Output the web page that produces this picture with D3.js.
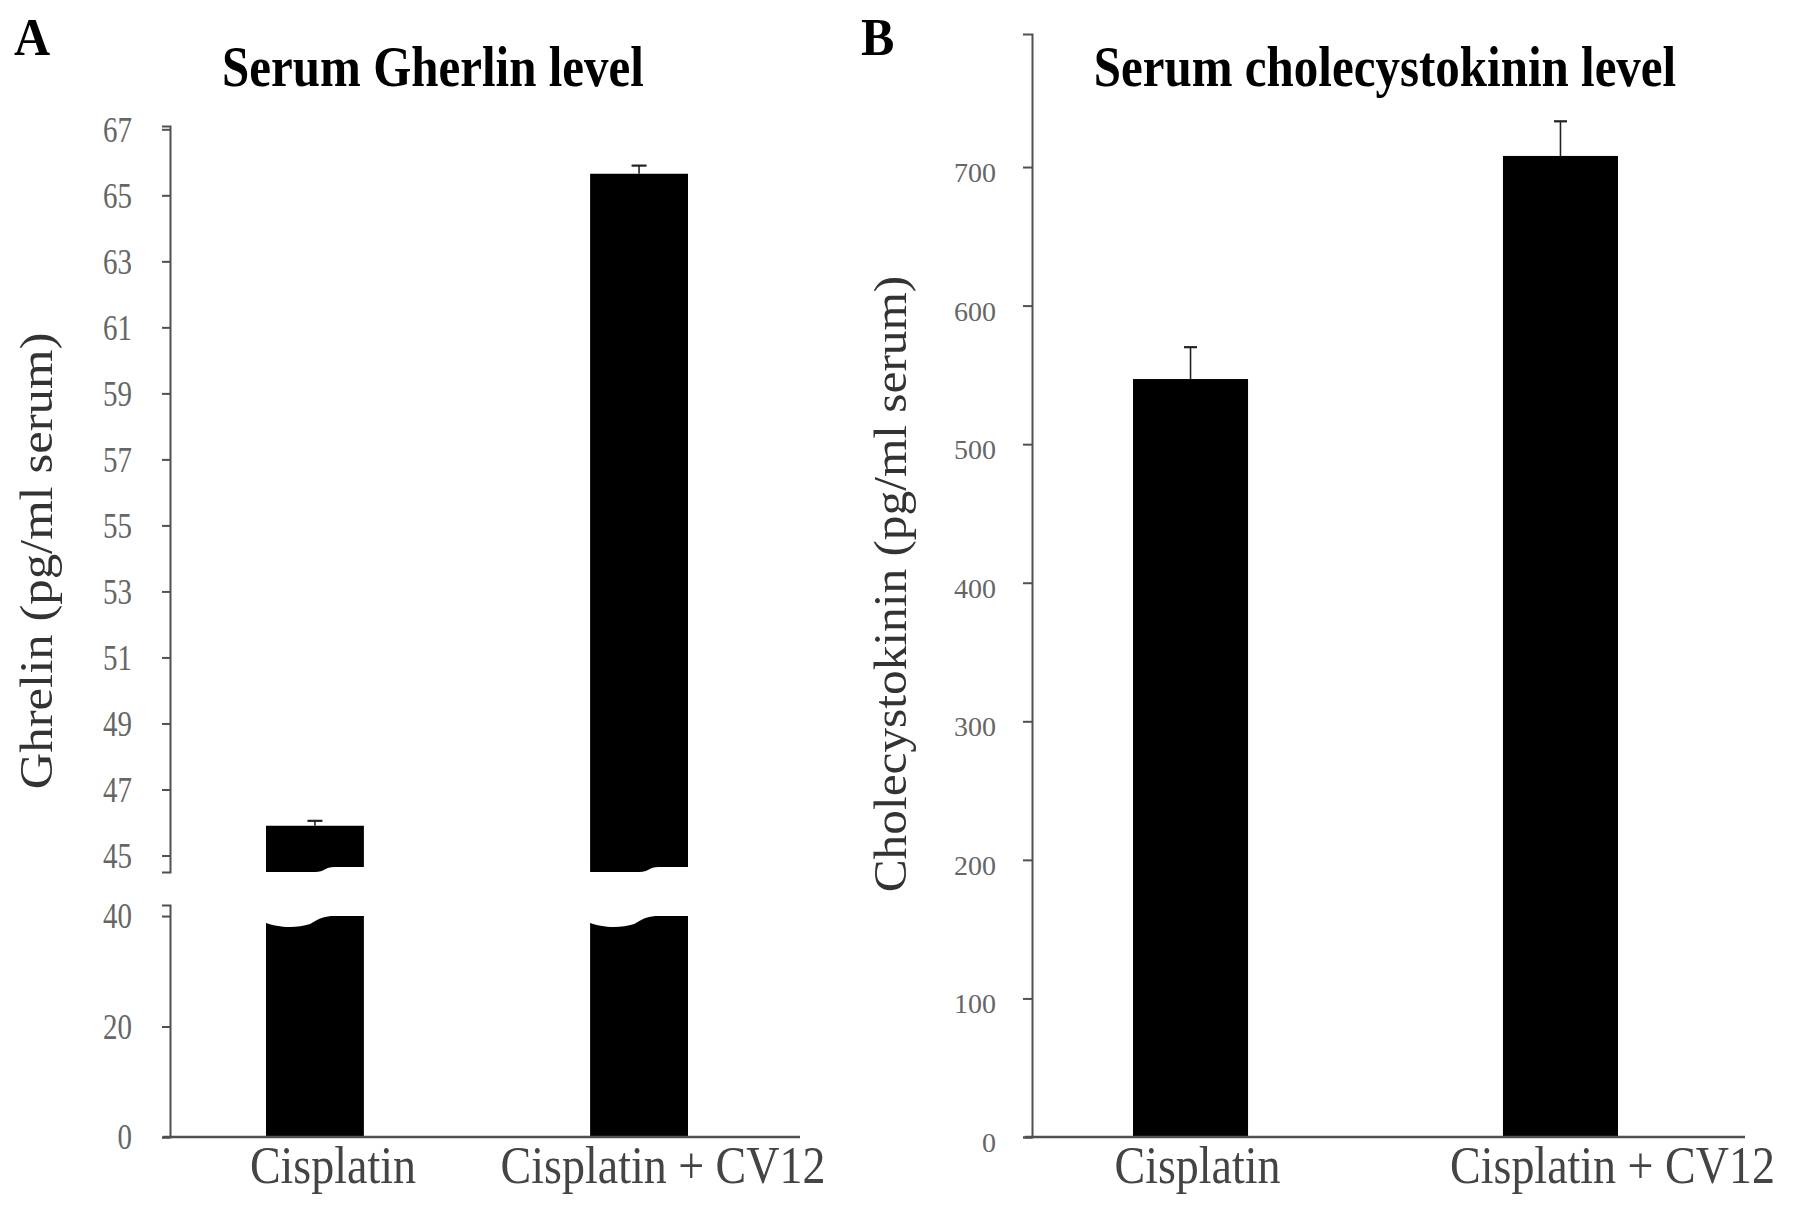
<!DOCTYPE html>
<html><head><meta charset="utf-8">
<script src="https://cdn.jsdelivr.net/npm/d3@7"></script>
<style>body{margin:0;background:#fff} svg{display:block}</style>
</head><body>
<svg id="c" width="1795" height="1207"></svg>
<script>
// ---- data ----
const categories = ["Cisplatin", "Cisplatin + CV12"];
const ghrelinMeans = [45.9, 65.65];
const ghrelinErr = [0.15, 0.25];
const cckMeans = [547, 708];
const cckErr = [23, 25];
const ghrelinUpperTicks = [45, 47, 49, 51, 53, 55, 57, 59, 61, 63, 65, 67];
const ghrelinLowerTicks = [0, 20, 40];
const ghrelinUpperDomain = [44.5, 67.1];
const ghrelinLowerDomain = [0, 42];
const ghrelinBreakValue = 40;
const cckTicks = [0, 100, 200, 300, 400, 500, 600, 700];
const cckDomain = [0, 796];
const titles = ["Serum Gherlin level", "Serum cholecystokinin level"];
const yLabels = ["Ghrelin (pg/ml serum)", "Cholecystokinin (pg/ml serum)"];
const panelLetters = ["A", "B"];

// ---- drawing ----
const svg = d3.select("#c");
const SERIF = "'Liberation Serif','DejaVu Serif',serif";
const AX = "#505050", TXT = "#666";
const STRETCH = 1.15;

function stretchedText(g, x, y, str, size, opts = {}) {
  return g.append("text")
    .attr("transform", `translate(${x},${y}) scale(1,${opts.stretch || STRETCH})`)
    .attr("font-family", SERIF).attr("font-size", size)
    .attr("font-weight", opts.bold ? "bold" : "normal")
    .attr("fill", opts.fill || "#000")
    .attr("text-anchor", opts.anchor || "middle")
    .text(str);
}
function rotatedLabel(x, y, str, size, fill, stretch) {
  svg.append("text")
    .attr("transform", `translate(${x},${y}) rotate(-90) scale(${stretch},1)`)
    .attr("font-family", SERIF).attr("font-size", size).attr("fill", fill)
    .attr("text-anchor", "middle").attr("dy", "0.35em").text(str);
}
function styleAxis(g, fontSize, stretch) {
  g.selectAll(".domain").attr("stroke", AX).attr("stroke-width", 2);
  g.selectAll(".tick line").attr("stroke", AX).attr("stroke-width", 2);
  g.selectAll(".tick text").attr("font-family", SERIF).attr("font-size", fontSize)
    .attr("fill", TXT).attr("dy", null).attr("y", 0)
    .attr("transform", `scale(1,${stretch})`)
    .attr("dominant-baseline", "central");
}
function errBar(g, cx, yTop, yMean, cap) {
  g.append("line").attr("x1", cx).attr("x2", cx).attr("y1", yMean).attr("y2", yTop)
    .attr("stroke", "#222").attr("stroke-width", 1.6);
  g.append("line").attr("x1", cx - cap / 2).attr("x2", cx + cap / 2).attr("y1", yTop).attr("y2", yTop)
    .attr("stroke", "#222").attr("stroke-width", 2.2);
}

// ===== Panel A =====
const gA = svg.append("g");
const axA = 170;
const xA = d3.scaleBand().domain(categories).range([266, 688]).paddingInner(0.698);
const yAU = d3.scaleLinear().domain(ghrelinUpperDomain).range([872, 126]);
const yAL = d3.scaleLinear().domain(ghrelinLowerDomain).range([1137, 905]);

stretchedText(gA, 14, 55, panelLetters[0], 50, { bold: true, anchor: "start", stretch: 1.05 });
stretchedText(gA, 433, 86, titles[0], 49, { bold: true });
rotatedLabel(36, 561, yLabels[0], 47, "#333", 1.08);

const axU = gA.append("g").attr("transform", `translate(${axA},0)`)
  .call(d3.axisLeft(yAU).tickValues(ghrelinUpperTicks).tickSize(8).tickSizeOuter(8).tickPadding(30));
styleAxis(axU, 29, 1.2);
const axL = gA.append("g").attr("transform", `translate(${axA},0)`)
  .call(d3.axisLeft(yAL).tickValues(ghrelinLowerTicks).tickSize(8).tickSizeOuter(8).tickPadding(30));
styleAxis(axL, 29, 1.2);

categories.forEach((c, i) => {
  const x0 = xA(c), w = xA.bandwidth(), x1 = x0 + w;
  const yTop = yAU(ghrelinMeans[i]);
  const yBotL = yAU(ghrelinUpperDomain[0]);
  const yBotR = yBotL - 5;
  gA.append("path").attr("fill", "#000").attr("d",
    `M${x0},${yTop}H${x1}V${yBotR}H${x0 + 0.7 * w}` +
    `C${x0 + 0.6 * w},${yBotR} ${x0 + 0.6 * w},${yBotL} ${x0 + 0.5 * w},${yBotL}H${x0}Z`);
  const yb = yAL(0), yt = yAL(ghrelinBreakValue);
  gA.append("path").attr("fill", "#000").attr("d",
    `M${x0},${yb}V${yt + 7}` +
    `C${x0 + 0.1 * w},${yt + 11} ${x0 + 0.3 * w},${yt + 13} ${x0 + 0.45 * w},${yt + 8}` +
    `C${x0 + 0.55 * w},${yt + 2} ${x0 + 0.6 * w},${yt} ${x0 + 0.7 * w},${yt}H${x1}V${yb}Z`);
  errBar(gA, x0 + w / 2, yAU(ghrelinMeans[i] + ghrelinErr[i]), yTop, 15);
});
gA.append("line").attr("x1", 163).attr("x2", 800).attr("y1", yAL(0)).attr("y2", yAL(0))
  .attr("stroke", AX).attr("stroke-width", 2.5);
const labOffA = [18, 24];
categories.forEach((c, i) => {
  stretchedText(gA, xA(c) + xA.bandwidth() / 2 + labOffA[i], 1183, c, 46, { fill: "#444", stretch: 1.14 });
});

// ===== Panel B =====
const gB = svg.append("g");
const axB = 1032;
const xB = d3.scaleBand().domain(categories).range([1133, 1618]).paddingInner(0.689);
const yB = d3.scaleLinear().domain(cckDomain).range([1137, 34]);

stretchedText(gB, 861, 55, panelLetters[1], 50, { bold: true, anchor: "start", stretch: 1.05 });
stretchedText(gB, 1385, 86, titles[1], 49, { bold: true });
rotatedLabel(890, 584, yLabels[1], 47, "#333", 1.05);

const axBg = gB.append("g").attr("transform", `translate(${axB},0)`)
  .call(d3.axisLeft(yB).tickValues(cckTicks).tickSize(9).tickSizeOuter(9).tickPadding(27));
styleAxis(axBg, 28, 1.0);
axBg.selectAll(".tick text").attr("y", 5);

categories.forEach((c, i) => {
  const x0 = xB(c), w = xB.bandwidth();
  gB.append("rect").attr("x", x0).attr("width", w)
    .attr("y", yB(cckMeans[i])).attr("height", yB(0) - yB(cckMeans[i])).attr("fill", "#000");
  errBar(gB, x0 + w / 2, yB(cckMeans[i] + cckErr[i]), yB(cckMeans[i]), 13);
});
gB.append("line").attr("x1", 1025).attr("x2", 1745).attr("y1", yB(0)).attr("y2", yB(0))
  .attr("stroke", AX).attr("stroke-width", 2.5);
const labOffB = [7, 52];
categories.forEach((c, i) => {
  stretchedText(gB, xB(c) + xB.bandwidth() / 2 + labOffB[i], 1183, c, 46, { fill: "#444", stretch: 1.14 });
});
</script>
</body></html>
